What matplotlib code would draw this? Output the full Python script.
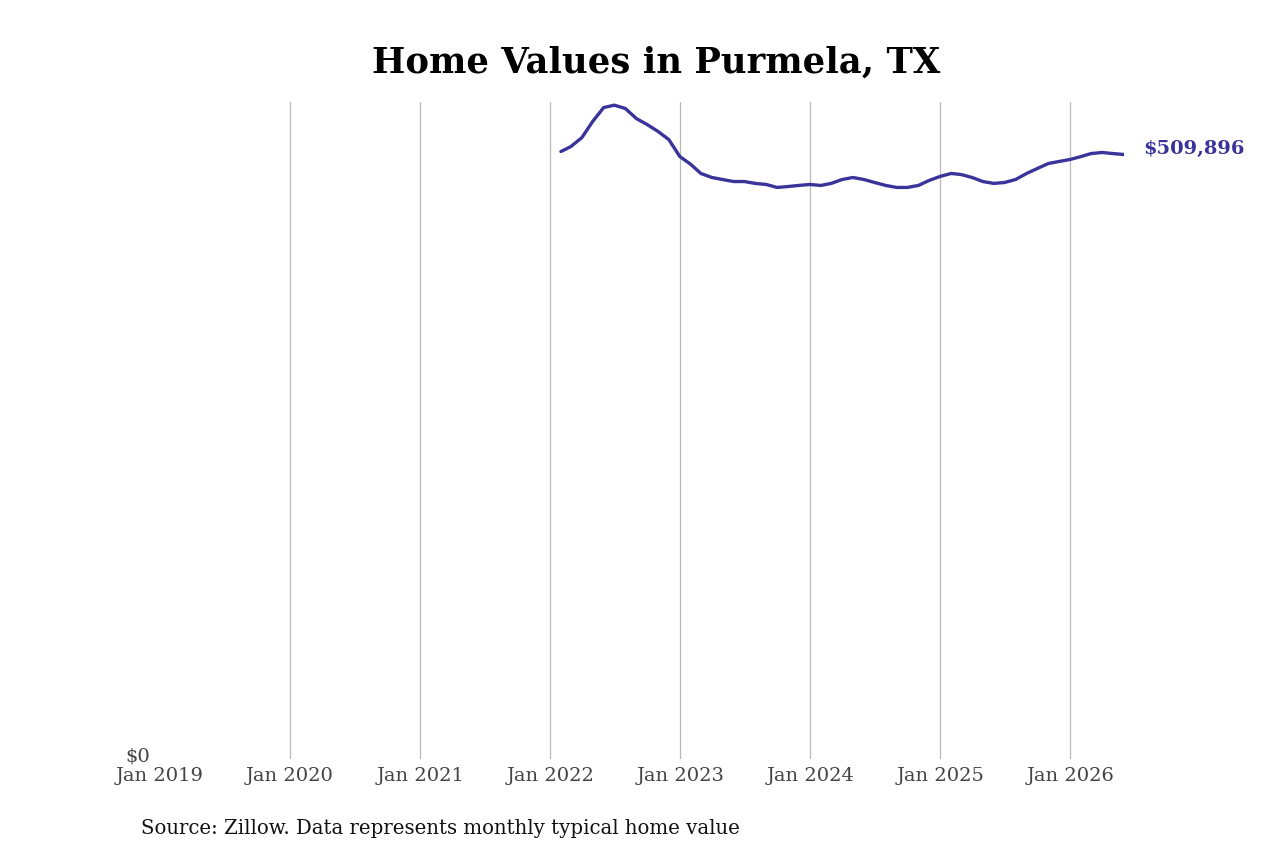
import numpy as np
import pandas as pd
import matplotlib
matplotlib.use('Agg')
import matplotlib.pyplot as plt
from matplotlib.transforms import ScaledTranslation

LINE_COLOR = '#3a3399'

# Monthly typical home value (Zillow, end of month)
months = pd.date_range('2022-01-31', '2026-05-31', freq='ME')
values = [
    512400, 516600, 524200, 537700, 549500, 551500, 548700, 540200, 535200, 529300, 522500, 508200,
    501500, 493900, 490500, 488800, 487100, 487100, 485500, 484600, 482100, 482900, 483800, 484600,
    483800, 485500, 488800, 490500, 488800, 486300, 483800, 482100, 482100, 483800, 488000, 491400,
    493900, 493000, 490500, 487100, 485500, 486300, 488800, 493900, 498100, 502300, 504000, 505700,
    508200, 510700, 511600, 510700, 509896,
]
tick_years = [2019, 2020, 2021, 2022, 2023, 2024, 2025, 2026]
title = 'Home Values in Purmela, TX'
source = 'Source: Zillow. Data represents monthly typical home value'


def main():
    plt.rcParams['font.family'] = 'DejaVu Serif'
    fig = plt.figure(figsize=(12.8, 8.53), dpi=100)
    ax = fig.add_axes([0.125, 0.109, 0.753, 0.77])

    ticks = [pd.Timestamp(f'{y}-01-01') for y in tick_years]
    # vertical guides at each January except the left edge
    for t in ticks[1:]:
        ax.axvline(t, color='#b8b8b8', linewidth=0.9, zorder=1)

    ax.plot(months, values, color=LINE_COLOR, linewidth=2.4, solid_capstyle='round', zorder=3)

    ax.set_xticks(ticks)
    ax.set_xticklabels([f'Jan {y}' for y in tick_years])
    ax.set_xlim(ticks[0], months[-1])
    ax.set_ylim(0, 554000)
    ax.set_yticks([0])
    ax.set_yticklabels(['$0'])

    for s in ax.spines.values():
        s.set_visible(False)
    ax.tick_params(axis='both', length=0, labelsize=14, labelcolor='#444444')
    ax.tick_params(axis='x', pad=5)
    ax.tick_params(axis='y', pad=7)
    # nudge "$0" up a little so it sits just above the first date label
    for lbl in ax.get_yticklabels():
        lbl.set_transform(lbl.get_transform() + ScaledTranslation(0, 4 / 72, fig.dpi_scale_trans))

    ax.annotate(f'${values[-1]:,}', xy=(months[-1], values[-1]), xytext=(14, 4.5),
                textcoords='offset points', color=LINE_COLOR, fontsize=14,
                fontweight='bold', va='center', ha='left', annotation_clip=False)

    fig.text(0.5125, 0.927, title, ha='center', va='center', fontsize=25.5, fontweight='bold')
    fig.text(0.11, 0.029, source, ha='left', va='center', fontsize=14.2, color='#111111')

    fig.savefig('out.png', dpi=100)


if __name__ == "__main__":
    main()
